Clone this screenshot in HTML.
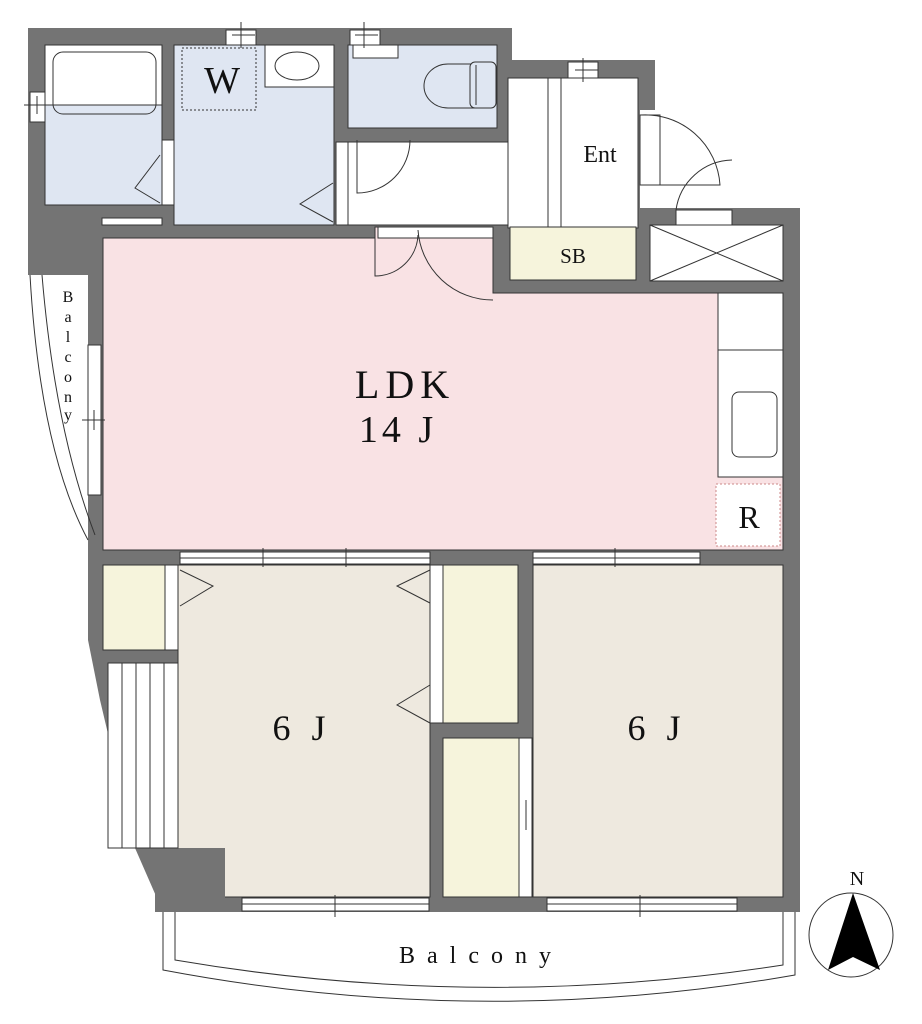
<!DOCTYPE html>
<html><head><meta charset="utf-8"><style>
html,body{margin:0;padding:0;background:#fff;}
svg{display:block;}
text{font-family:"Liberation Serif",serif;fill:#111;}
</style></head><body>
<svg width="922" height="1024" viewBox="0 0 922 1024" xmlns="http://www.w3.org/2000/svg">
<g stroke="none" fill="#747474">
  <polygon points="28,28 512,28 512,60 655,60 655,110 640,110 640,208 800,208 800,912 163,912 135,848 100,700 88,640 88,275 28,275"/>
</g>
<g stroke="#333" stroke-width="1">
  <rect x="45" y="45" width="117" height="60" fill="#fff"/>
  <rect x="45" y="105" width="117" height="100" fill="#dfe6f2"/>
  <rect x="174" y="45" width="160" height="180" fill="#dfe6f2"/>
  <rect x="265" y="45" width="69" height="42" fill="#fff"/>
  <rect x="348" y="45" width="149" height="83" fill="#dfe6f2"/>
  <rect x="353" y="45" width="45" height="13" fill="#fff"/>
  <rect x="348" y="142" width="162" height="83" fill="#fff"/>
  <rect x="336" y="142" width="12" height="83" fill="#fff"/>
  <rect x="162" y="140" width="12" height="65" fill="#fff"/>
  <rect x="508" y="78" width="130" height="150" fill="#fff"/>
  <line x1="548" y1="78" x2="548" y2="227"/><line x1="561" y1="78" x2="561" y2="227"/>
  <rect x="510" y="227" width="126" height="53" fill="#f6f4dc"/>
  <rect x="650" y="225" width="133" height="56" fill="#fff"/>
  <line x1="650" y1="225" x2="783" y2="281"/><line x1="783" y1="225" x2="650" y2="281"/>
  <polygon points="103,238 375,238 375,227 493,227 493,293 783,293 783,550 103,550" fill="#f9e2e4"/>
  <rect x="718" y="293" width="65" height="57" fill="#fff"/>
  <rect x="718" y="350" width="65" height="127" fill="#fff"/>
  <rect x="732" y="392" width="45" height="65" rx="7" fill="#fff"/>
  <rect x="716" y="484" width="64" height="62" fill="#fff" stroke="#c88" stroke-dasharray="2,2"/>
  <rect x="88" y="345" width="13" height="150" fill="#fff"/>
  <rect x="178" y="565" width="252" height="332" fill="#eee9df"/>
  <rect x="155" y="848" width="70" height="64" fill="#747474" stroke="none"/>
  <rect x="103" y="565" width="62" height="85" fill="#f6f4dc"/>
  <rect x="165" y="565" width="13" height="85" fill="#fff"/>
  <rect x="108" y="663" width="70" height="185" fill="#fff"/>
  <line x1="122" y1="663" x2="122" y2="848"/><line x1="136" y1="663" x2="136" y2="848"/><line x1="150" y1="663" x2="150" y2="848"/><line x1="164" y1="663" x2="164" y2="848"/>
  <rect x="443" y="565" width="75" height="158" fill="#f6f4dc"/>
  <rect x="430" y="565" width="13" height="158" fill="#fff"/>
  <rect x="443" y="738" width="76" height="159" fill="#f6f4dc"/>
  <rect x="519" y="738" width="13" height="159" fill="#fff"/>
  <rect x="533" y="565" width="250" height="332" fill="#eee9df"/>
  <rect x="180" y="552" width="250" height="12" fill="#fff"/>
  <rect x="533" y="552" width="167" height="12" fill="#fff"/>
  <rect x="242" y="898" width="187" height="13" fill="#fff"/>
  <rect x="547" y="898" width="190" height="13" fill="#fff"/>
  <rect x="226" y="30" width="30" height="15" fill="#fff"/>
  <rect x="350" y="30" width="30" height="15" fill="#fff"/>
  <rect x="568" y="62" width="30" height="16" fill="#fff"/>
  <rect x="30" y="92" width="15" height="30" fill="#fff"/>
  <rect x="102" y="218" width="60" height="7" fill="#fff"/>
  <rect x="378" y="227" width="115" height="11" fill="#fff"/>
  <rect x="640" y="115" width="20" height="70" fill="#fff"/>
  <rect x="676" y="210" width="56" height="15" fill="#fff"/>
</g>
<g fill="none" stroke="#333" stroke-width="1">
  <rect x="53" y="52" width="103" height="62" rx="10"/>
  <ellipse cx="297" cy="66" rx="22" ry="14"/>
  <rect x="182" y="48" width="74" height="62" stroke-dasharray="2,2"/>
  <path d="M160,155 L135,188 L160,203"/>
  <path d="M333,183 L300,204 L333,222"/>
  <path d="M357,140 L357,193 A53,53 0 0 0 410,140"/>
  <path d="M375,238 L375,276 A43,43 0 0 0 418,235"/>
  <path d="M493,300 A75,75 0 0 1 418,230"/>
  <path d="M640,115 A75,75 0 0 1 720,185 L640,185"/>
  <path d="M732,160 A58,58 0 0 0 676,210"/>
  <path d="M180,570 L213,586 L180,606"/>
  <path d="M430,570 L397,586 L430,603"/>
  <path d="M430,685 L397,705 L430,723"/>
  <path d="M30,275 Q40,450 88,540"/>
  <path d="M42,275 Q55,430 95,535"/>
  <path d="M163,912 L163,970 Q480,1030 795,975 L795,912"/>
  <path d="M175,912 L175,960 Q480,1012 783,965 L783,912"/>
  <path d="M480,64 L448,64 A24,22 0 0 0 448,108 L480,108"/>
  <rect x="470" y="62" width="26" height="46" rx="5" fill="#dfe6f2"/>
  <line x1="476" y1="65" x2="476" y2="105"/>
</g>
<g stroke="#333" stroke-width="1">
  <line x1="241" y1="22" x2="241" y2="48"/><line x1="232" y1="35" x2="255" y2="35"/>
  <line x1="364" y1="22" x2="364" y2="48"/><line x1="355" y1="35" x2="378" y2="35"/>
  <line x1="583" y1="58" x2="583" y2="82"/><line x1="575" y1="70" x2="598" y2="70"/>
  <line x1="24" y1="105" x2="50" y2="105"/><line x1="37" y1="96" x2="37" y2="114"/>
  <line x1="82" y1="420" x2="105" y2="420"/><line x1="94" y1="410" x2="94" y2="430"/>
  <line x1="263" y1="548" x2="263" y2="567"/><line x1="346" y1="548" x2="346" y2="567"/><line x1="615" y1="548" x2="615" y2="567"/>
  <line x1="180" y1="558" x2="430" y2="558"/><line x1="533" y1="558" x2="700" y2="558"/>
  <line x1="335" y1="895" x2="335" y2="917"/><line x1="640" y1="895" x2="640" y2="917"/>
  <line x1="242" y1="904" x2="429" y2="904"/><line x1="547" y1="904" x2="737" y2="904"/>
  <line x1="526" y1="800" x2="526" y2="830"/>
</g>
<circle cx="851" cy="935" r="42" fill="#fff" stroke="#333"/>
<polygon points="853,893 880,970 853,957 828,970" fill="#000"/>
<text x="857" y="885" font-size="20" text-anchor="middle">N</text>
<text x="222" y="93" font-size="38" text-anchor="middle">W</text>
<text x="600" y="162" font-size="24" text-anchor="middle">Ent</text>
<text x="573" y="263" font-size="21" text-anchor="middle">SB</text>
<text x="405" y="398" font-size="40" text-anchor="middle" letter-spacing="6">LDK</text>
<text x="398" y="442" font-size="38" text-anchor="middle" letter-spacing="4">14 J</text>
<text x="749" y="528" font-size="32" text-anchor="middle">R</text>
<text x="302" y="740" font-size="36" text-anchor="middle" letter-spacing="6">6 J</text>
<text x="657" y="740" font-size="36" text-anchor="middle" letter-spacing="6">6 J</text>
<text x="481" y="963" font-size="24" text-anchor="middle" letter-spacing="12">Balcony</text>
<g font-size="16" text-anchor="middle">
<text x="68" y="302">B</text><text x="68" y="322">a</text><text x="68" y="342">l</text><text x="68" y="362">c</text><text x="68" y="382">o</text><text x="68" y="402">n</text><text x="68" y="420">y</text>
</g>
</svg>
</body></html>
